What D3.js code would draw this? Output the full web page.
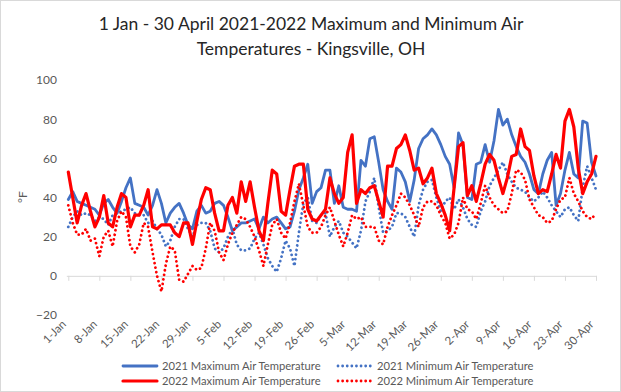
<!DOCTYPE html>
<html><head><meta charset="utf-8">
<script src="https://cdn.jsdelivr.net/npm/d3@7"></script>
<style>
body{margin:0;background:#fff}
svg{display:block}
text{font-family:Lato,"Liberation Sans",sans-serif}
</style>
</head><body>
<svg id="chart" width="621" height="392"></svg>
<script>
const titleLines = ["1 Jan - 30 April 2021-2022 Maximum and Minimum Air", "Temperatures  - Kingsville, OH"];
const yAxisTitle = "°F";
const tickLabels = ["1-Jan","8-Jan","15-Jan","22-Jan","29-Jan","5-Feb","12-Feb","19-Feb","26-Feb","5-Mar","12-Mar","19-Mar","26-Mar","2-Apr","9-Apr","16-Apr","23-Apr","30-Apr"];
const yTicks = [-20, 0, 20, 40, 60, 80, 100];
const seriesNames = ["2021 Maximum Air Temperature","2021 Minimum Air Temperature","2022 Maximum Air Temperature","2022 Minimum Air Temperature"];

const max2021 = [39,43,38,37,36,35,34,31,37,39, 35,32,38,45,50,37,36,35,31,36, 44,37,27,32,35,37,32,26,24,33,
  36,32,33,37,38,36,30,23,25,27, 27,28,29,24,30,27,29,30,27,24, 25,33,44,50,57,37,43,45,54,54,
  37,46,35,34,34,33,59,56,70,71, 58,44,38,34,55,53,48,38,49,65, 70,72,75,72,67,61,57,45,73,67,
  40,39,57,58,67,58,69,85,77,80, 72,66,61,58,52,44,42,52,59,63, 36,42,54,63,52,50,79,78,58,51];
const min2021 = [25,30,33,31,32,31,28,30,29,26, 31,32,33,34,35,32,31,31,27,28, 24,21,15,18,25,29,29,24,20,26,
  27,27,23,14,12,14,20,24,16,13, 13,14,19,22,16,9,5,2,9,18, 14,5,22,37,40,28,27,31,32,20,
  25,28,22,20,17,14,23,38,43,50, 35,22,23,25,32,32,30,25,20,36, 44,48,49,40,33,38,40,34,39,35,
  29,26,25,33,38,46,50,54,58,52, 48,45,44,43,40,38,40,43,40,36, 33,30,34,35,31,28,45,56,50,44];
const max2022 = [53,40,27,36,42,33,25,30,41,27, 25,35,42,40,25,31,31,36,44,25, 24,26,26,26,22,20,27,27,16,28,
  39,45,44,32,23,23,36,40,32,48, 38,48,35,23,18,37,54,52,33,31, 44,56,57,57,34,29,28,31,34,50,
  42,37,40,63,72,37,44,42,45,46, 38,30,56,56,65,67,72,64,54,55, 47,50,55,42,37,31,23,45,66,68,
  41,46,38,47,57,62,59,50,42,50, 61,62,75,66,64,51,42,44,43,52, 62,55,79,85,76,55,42,48,52,61];
const min2022 = [36,27,21,21,24,18,19,10,20,23, 15,28,33,30,15,12,16,27,25,12, 0,-8,6,15,13,-2,-3,1,5,3,
  4,14,27,23,12,8,16,22,26,30, 29,25,20,13,5,16,26,29,22,19, 27,38,47,36,25,22,22,25,31,35,
  28,21,15,22,31,29,30,25,25,25, 18,16,25,31,36,42,40,36,31,25, 35,38,38,36,31,27,19,21,27,40,
  34,33,29,37,46,40,36,34,32,33, 42,54,53,49,39,35,31,30,27,28, 34,39,40,50,42,38,33,30,29,32];

const W = 621, H = 392;
const svg = d3.select("#chart");
const dates = d3.timeDay.range(new Date(2021,0,1), new Date(2021,4,1));
const parseTick = d3.timeParse("%d-%b-%Y");
const tickDates = tickLabels.map(l => parseTick(l + "-2021"));
const x = d3.scaleTime().domain([dates[0], dates[dates.length-1]]).range([68.3, 596]);
const y = d3.scaleLinear().domain([-20, 100]).range([315, 80]);

svg.append("rect").attr("x",0.5).attr("y",0.5).attr("width",W-1).attr("height",H-1)
  .attr("fill","#fff").attr("stroke","#d9d9d9");

// title
const title = svg.append("text").attr("text-anchor","middle").attr("fill","#262626").style("font-size","17.5px");
titleLines.forEach((t,i)=> title.append("tspan").attr("x",311).attr("y",30 + i*25).text(t));

// y axis labels
const yAxis = svg.append("g").attr("transform","translate(57,0)")
  .call(d3.axisLeft(y).tickValues(yTicks).tickSize(0).tickPadding(0).tickFormat(d3.format("d")));
yAxis.select(".domain").remove();
yAxis.selectAll("text").attr("fill","#595959").style("font-size","12px").style("font-family","Lato,sans-serif");

svg.append("text").attr("transform","translate(27,197) rotate(-90)").attr("text-anchor","middle")
  .attr("fill","#595959").style("font-size","12px").text(yAxisTitle);

// x axis line at zero with ticks
const xAxis = svg.append("g").attr("transform",`translate(0,${y(0)})`)
  .call(d3.axisBottom(x).tickValues(tickDates).tickSize(5).tickFormat(""));
xAxis.select(".domain").attr("stroke","#d9d9d9").attr("d",`M${x(dates[0])-1.5},0.5H${x(dates[dates.length-1])+1}`);
xAxis.selectAll(".tick line").attr("stroke","#d9d9d9");

// x labels at bottom
const xLab = svg.append("g").attr("transform","translate(0,316)")
  .call(d3.axisBottom(x).tickValues(tickDates).tickSize(0).tickFormat((d,i)=>tickLabels[i]));
xLab.select(".domain").remove();
xLab.selectAll("text").attr("x",0).attr("y",0).attr("dy",0).attr("text-anchor","end")
  .attr("transform","translate(-2,9) rotate(-45)")
  .attr("fill","#595959").style("font-size","11.5px").style("font-family","Lato,sans-serif");

const line = d3.line().x((d,i)=>x(dates[i])).y(d=>y(d));
const styles = [
  {data:max2021, color:"#4472c4", w:2.8, dash:null},
  {data:min2021, color:"#4472c4", w:2.8, dash:"0.01 4.6"},
  {data:max2022, color:"#ff0000", w:3.2, dash:null},
  {data:min2022, color:"#ff0000", w:2.8, dash:"0.01 4.6"}
];
styles.forEach(s=>{
  svg.append("path").datum(s.data).attr("d",line).attr("fill","none")
    .attr("stroke",s.color).attr("stroke-width",s.w).attr("stroke-linejoin","round")
    .attr("stroke-linecap","round").attr("stroke-dasharray",s.dash);
});

// legend
const legPos = [[123,366],[338,366],[123,381],[338,381]];
seriesNames.forEach((n,i)=>{
  const [lx,ly] = legPos[i], s = styles[i];
  svg.append("line").attr("x1",lx).attr("x2",lx+34).attr("y1",ly).attr("y2",ly)
    .attr("stroke",s.color).attr("stroke-width",s.w).attr("stroke-linecap","round").attr("stroke-dasharray",s.dash);
  svg.append("text").attr("x",lx+39).attr("y",ly+4).attr("fill","#595959").style("font-size","11.2px").text(n);
});
</script>
</body></html>
